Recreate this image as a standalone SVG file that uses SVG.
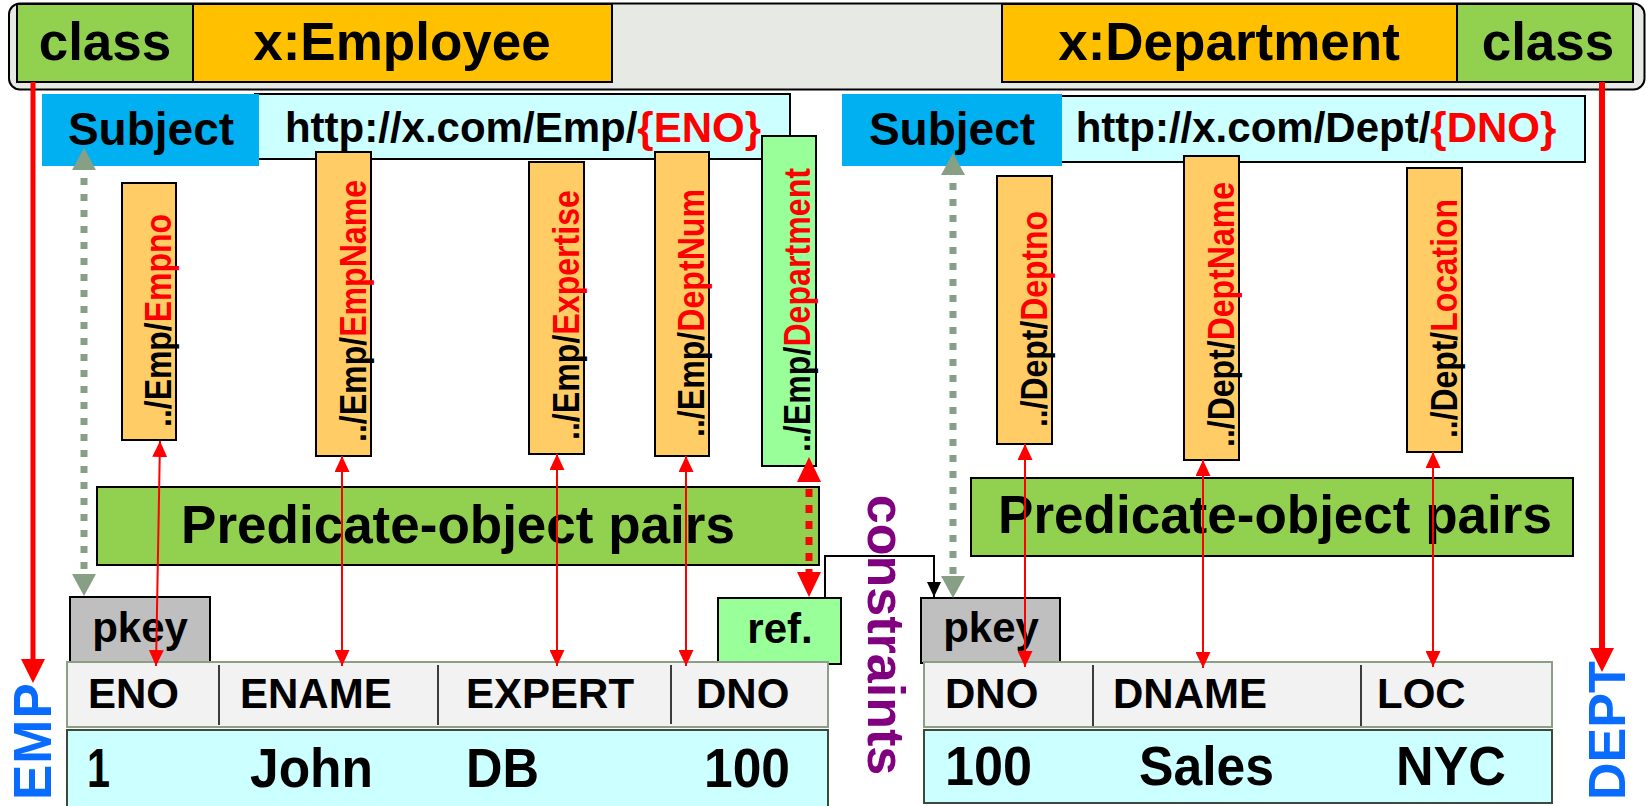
<svg xmlns="http://www.w3.org/2000/svg" width="1646" height="806" viewBox="0 0 1646 806">
<style>
text{font-family:"Liberation Sans",Arial,sans-serif;font-weight:bold;fill:#000}
.bx{stroke:#000;stroke-width:2}
.pred{fill:#ffcc66;stroke:#000;stroke-width:2}
.ptxt{font-size:36px}
.red{fill:#ff0000}
.hd{font-size:42px}
.dt{font-size:55px}
.big{font-size:53px}
.thin{stroke:#ff0000;stroke-width:2;fill:none;marker-start:url(#ra);marker-end:url(#ra)}
</style>
<defs>
<marker id="ra" viewBox="0 0 16 15" markerWidth="16" markerHeight="15" refX="16" refY="7.5" orient="auto-start-reverse" markerUnits="userSpaceOnUse"><path d="M0,0 L16,7.5 L0,15 z" fill="#ff0000"/></marker>
<marker id="rt" viewBox="0 0 24 24" markerWidth="24" markerHeight="24" refX="10" refY="12" orient="auto" markerUnits="userSpaceOnUse"><path d="M0,0 L24,12 L0,24 z" fill="#ff0000"/></marker>
<marker id="rd" viewBox="0 0 25 24" markerWidth="25" markerHeight="24" refX="9" refY="12" orient="auto-start-reverse" markerUnits="userSpaceOnUse"><path d="M0,0 L25,12 L0,24 z" fill="#ff0000"/></marker>
<marker id="ga" viewBox="0 0 22 24" markerWidth="22" markerHeight="24" refX="8" refY="12" orient="auto-start-reverse" markerUnits="userSpaceOnUse"><path d="M0,0 L22,12 L0,24 z" fill="#87a085"/></marker>
<marker id="ka" viewBox="0 0 15 14" markerWidth="15" markerHeight="14" refX="15" refY="7" orient="auto" markerUnits="userSpaceOnUse"><path d="M0,0 L15,7 L0,14 z" fill="#000"/></marker>
</defs>

<g id="class-bar">
<rect x="9" y="3.5" width="1635.5" height="86" rx="11" fill="#e6e9e4" stroke="#000" stroke-width="2"/>
</g>
<g id="class-emp">
<rect x="17" y="4" width="176" height="78" fill="#92d050" class="bx"/>
<text x="105" y="60" class="big" text-anchor="middle">class</text>
</g>
<g id="x-employee">
<rect x="193" y="4" width="419" height="78" fill="#ffc000" class="bx"/>
<text x="402" y="60" class="big" text-anchor="middle">x:Employee</text>
</g>
<g id="x-department">
<rect x="1002" y="4" width="455" height="78" fill="#ffc000" class="bx"/>
<text x="1229" y="60" class="big" text-anchor="middle">x:Department</text>
</g>
<g id="class-dept">
<rect x="1457" y="4" width="176" height="78" fill="#92d050" class="bx"/>
<text x="1548" y="60" class="big" text-anchor="middle">class</text>
</g>

<g id="uri-emp">
<rect x="255" y="94" width="535" height="65" fill="#ccffff" class="bx"/>
<text x="523" y="142" font-size="42" text-anchor="middle">http://x.com/Emp/<tspan class="red">{ENO}</tspan></text>
</g>
<g id="subject-emp">
<rect x="42" y="94" width="217" height="72" fill="#00b0f0"/>
<text x="151" y="145" font-size="46" text-anchor="middle">Subject</text>
</g>
<g id="uri-dept">
<rect x="1058" y="96" width="527" height="66" fill="#ccffff" class="bx"/>
<text x="1316" y="142" font-size="42" text-anchor="middle">http://x.com/Dept/<tspan class="red">{DNO}</tspan></text>
</g>
<g id="subject-dept">
<rect x="842" y="94" width="220" height="72" fill="#00b0f0"/>
<text x="952" y="145" font-size="46" text-anchor="middle">Subject</text>
</g>

<g id="p-empno">
<rect x="122" y="183" width="54" height="257" class="pred"/>
<text class="ptxt" transform="translate(171,427) rotate(-90)" textLength="213" lengthAdjust="spacingAndGlyphs">../Emp/<tspan class="red">Empno</tspan></text>
</g>
<g id="p-empname">
<rect x="316" y="152" width="55" height="304" class="pred"/>
<text class="ptxt" transform="translate(366,442) rotate(-90)" textLength="262" lengthAdjust="spacingAndGlyphs">../Emp/<tspan class="red">EmpName</tspan></text>
</g>
<g id="p-expertise">
<rect x="529" y="162" width="55" height="292" class="pred"/>
<text class="ptxt" transform="translate(579,440) rotate(-90)" textLength="250" lengthAdjust="spacingAndGlyphs">../Emp/<tspan class="red">Expertise</tspan></text>
</g>
<g id="p-deptnum">
<rect x="655" y="152" width="54" height="304" class="pred"/>
<text class="ptxt" transform="translate(704,437) rotate(-90)" textLength="248" lengthAdjust="spacingAndGlyphs">../Emp/<tspan class="red">DeptNum</tspan></text>
</g>
<g id="p-department">
<rect x="762" y="136" width="54" height="330" fill="#99ff99" stroke="#000" stroke-width="2"/>
<text class="ptxt" transform="translate(810,452) rotate(-90)" textLength="284" lengthAdjust="spacingAndGlyphs">../Emp/<tspan class="red">Department</tspan></text>
</g>
<g id="p-deptno">
<rect x="997" y="176" width="55" height="268" class="pred"/>
<text class="ptxt" transform="translate(1047,427) rotate(-90)" textLength="216" lengthAdjust="spacingAndGlyphs">../Dept/<tspan class="red">Deptno</tspan></text>
</g>
<g id="p-deptname">
<rect x="1184" y="156" width="55" height="304" class="pred"/>
<text class="ptxt" transform="translate(1234,447) rotate(-90)" textLength="265" lengthAdjust="spacingAndGlyphs">../Dept/<tspan class="red">DeptName</tspan></text>
</g>
<g id="p-location">
<rect x="1407" y="168" width="55" height="284" class="pred"/>
<text class="ptxt" transform="translate(1457,438) rotate(-90)" textLength="239" lengthAdjust="spacingAndGlyphs">../Dept/<tspan class="red">Location</tspan></text>
</g>

<g id="po-emp">
<rect x="97" y="487" width="722" height="78" fill="#92d050" class="bx"/>
<text x="458" y="543" class="big" text-anchor="middle">Predicate-object pairs</text>
</g>
<g id="po-dept">
<rect x="971" y="478" width="602" height="78" fill="#92d050" class="bx"/>
<text x="1275" y="533" class="big" text-anchor="middle">Predicate-object pairs</text>
</g>

<g id="pkey-emp">
<rect x="70" y="597" width="140" height="65" fill="#bfbfbf" class="bx"/>
<text x="140" y="642" font-size="42" text-anchor="middle">pkey</text>
</g>
<g id="ref">
<rect x="718" y="598" width="123" height="66" fill="#99ff99" class="bx"/>
<text x="780" y="643" font-size="42" text-anchor="middle">ref.</text>
</g>
<g id="pkey-dept">
<rect x="921" y="598" width="139" height="65" fill="#bfbfbf" class="bx"/>
<text x="991" y="642" font-size="42" text-anchor="middle">pkey</text>
</g>

<g id="table-emp">
<rect x="67" y="662" width="761" height="65" fill="#f2f2f2" stroke="#8a9f86" stroke-width="2"/>
<path d="M219,665 V725 M438,665 V725 M671,665 V724" stroke="#000" stroke-width="1.5"/>
<text x="88" y="708" class="hd">ENO</text>
<text x="240" y="708" class="hd">ENAME</text>
<text x="466" y="708" class="hd">EXPERT</text>
<text x="696" y="708" class="hd">DNO</text>
<rect x="67" y="730" width="761" height="90" fill="#ccffff" stroke="#3c4a3c" stroke-width="2"/>
<text x="87" y="787" class="dt" textLength="23" lengthAdjust="spacingAndGlyphs">1</text>
<text x="250" y="787" class="dt" textLength="123" lengthAdjust="spacingAndGlyphs">John</text>
<text x="466" y="787" class="dt" textLength="73" lengthAdjust="spacingAndGlyphs">DB</text>
<text x="704" y="787" class="dt" textLength="86" lengthAdjust="spacingAndGlyphs">100</text>
</g>
<g id="table-dept">
<rect x="924" y="662" width="628" height="65" fill="#f2f2f2" stroke="#8a9f86" stroke-width="2"/>
<path d="M1093,665 V726 M1361,665 V726" stroke="#000" stroke-width="1.5"/>
<text x="945" y="708" class="hd">DNO</text>
<text x="1113" y="708" class="hd">DNAME</text>
<text x="1377" y="708" class="hd">LOC</text>
<rect x="924" y="730" width="628" height="73" fill="#ccffff" stroke="#3c4a3c" stroke-width="2"/>
<text x="945" y="785" class="dt" textLength="87" lengthAdjust="spacingAndGlyphs">100</text>
<text x="1139" y="785" class="dt" textLength="135" lengthAdjust="spacingAndGlyphs">Sales</text>
<text x="1396" y="785" class="dt" textLength="110" lengthAdjust="spacingAndGlyphs">NYC</text>
</g>

<g id="label-emp">
<text transform="translate(51,800) rotate(-90)" font-size="53" style="fill:#0a6cff" letter-spacing="1">EMP</text>
</g>
<g id="label-dept">
<text transform="translate(1625,800) rotate(-90)" font-size="52" style="fill:#0a6cff">DEPT</text>
</g>
<g id="label-constraints">
<text transform="translate(868,635) rotate(90)" font-size="52" text-anchor="middle" style="fill:#800080">constraints</text>
</g>

<g id="connectors">
<line x1="33" y1="82" x2="33" y2="669" stroke="#ff0000" stroke-width="5" marker-end="url(#rt)"/>
<line x1="1602" y1="82" x2="1602" y2="658" stroke="#ff0000" stroke-width="6" marker-end="url(#rt)"/>
<line x1="84" y1="162" x2="84" y2="582" stroke="#87a085" stroke-width="7" stroke-dasharray="7 9" marker-start="url(#ga)" marker-end="url(#ga)"/>
<line x1="953" y1="167" x2="953" y2="584" stroke="#87a085" stroke-width="7" stroke-dasharray="7 9" marker-start="url(#ga)" marker-end="url(#ga)"/>
<line x1="160" y1="441" x2="156" y2="666" class="thin"/>
<line x1="342" y1="456" x2="342" y2="666" class="thin"/>
<line x1="557" y1="454" x2="557" y2="666" class="thin"/>
<line x1="686" y1="456" x2="686" y2="666" class="thin"/>
<line x1="1025" y1="444" x2="1025" y2="667" class="thin"/>
<line x1="1203" y1="460" x2="1203" y2="668" class="thin"/>
<line x1="1433" y1="452" x2="1433" y2="667" class="thin"/>
<line x1="809" y1="473" x2="809" y2="581" stroke="#ff0000" stroke-width="7" stroke-dasharray="8 8" marker-start="url(#rd)" marker-end="url(#rd)"/>
<path d="M825,598 V556 H934 V597" fill="none" stroke="#000" stroke-width="2" marker-end="url(#ka)"/>
</g>
</svg>
